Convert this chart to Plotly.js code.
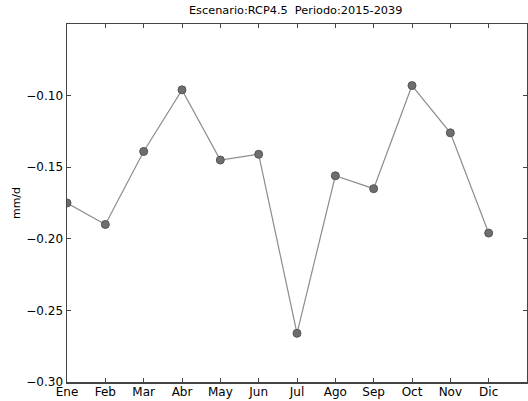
<!DOCTYPE html>
<html>
<head>
<meta charset="utf-8">
<script src="https://cdn.plot.ly/plotly-3.0.1.min.js"></script>
<style>html,body{margin:0;padding:0;background:#fff;}#chart{width:528px;height:401px;}</style>
</head>
<body>
<div id="chart"></div>
<script>
const months = ["Ene","Feb","Mar","Abr","May","Jun","Jul","Ago","Sep","Oct","Nov","Dic"];
const monthIndex = [0,1,2,3,4,5,6,7,8,9,10,11];
const values = [-0.175,-0.190,-0.139,-0.096,-0.145,-0.141,-0.266,-0.156,-0.165,-0.093,-0.126,-0.196];
const yTicks = [-0.30,-0.25,-0.20,-0.15,-0.10];
const yTickText = ["\u22120.30","\u22120.25","\u22120.20","\u22120.15","\u22120.10"];
const titleText = "Escenario:RCP4.5\u00a0\u00a0Periodo:2015-2039";

const trace = {
  x: monthIndex, y: values, type: "scatter", mode: "lines+markers",
  line: {color: "#8c8c8c", width: 1.2},
  marker: {color: "#6e6e6e", size: 8, line: {color: "#555555", width: 1}},
  hoverinfo: "none", showlegend: false
};
const font = {family: "DejaVu Sans", size: 12, color: "#000"};
const layout = {
  width: 528, height: 401,
  margin: {l: 67, r: 1, t: 24, b: 19, pad: 0},
  paper_bgcolor: "#fff", plot_bgcolor: "#fff",
  font: font,
  title: {text: titleText, font: {family: "DejaVu Sans", size: 11.3, color: "#000"}, x: 0.56, xanchor: "center", y: 0.985, yanchor: "top"},
  xaxis: {
    range: [0, 12], tickvals: monthIndex, ticktext: months,
    ticks: "inside", ticklen: 4, tickcolor: "#444", tickwidth: 1,
    showline: true, linecolor: "#444", linewidth: 1.5, mirror: "ticks",
    showgrid: false, zeroline: false, tickfont: font, ticklabelstandoff: -2
  },
  yaxis: {
    range: [-0.30, -0.05], tickvals: yTicks, ticktext: yTickText,
    ticks: "inside", ticklen: 4, tickcolor: "#444", tickwidth: 1,
    showline: true, linecolor: "#444", linewidth: 1.5, mirror: "ticks",
    showgrid: false, zeroline: false, tickfont: font,
    title: {text: "mm/d", font: {family: "DejaVu Sans", size: 11, color: "#000"}, standoff: 3}
  }
};
Plotly.newPlot("chart", [trace], layout, {staticPlot: true, displayModeBar: false});
</script>
</body>
</html>
